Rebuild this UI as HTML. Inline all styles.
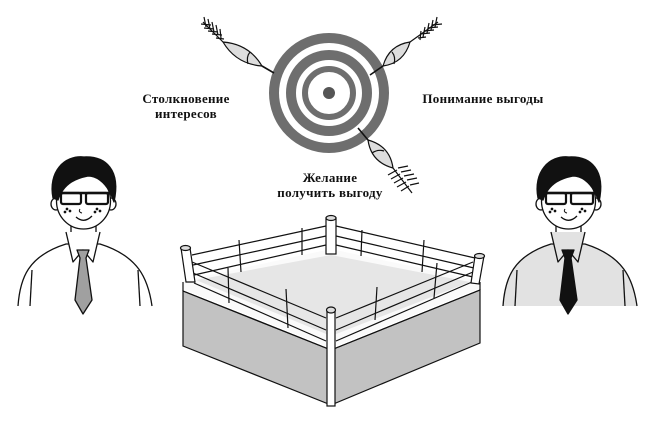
<!DOCTYPE html>
<html><head><meta charset="utf-8"><style>
html,body{margin:0;padding:0;background:#fff;width:650px;height:426px;overflow:hidden}
svg{display:block}
text{font-family:"Liberation Serif",serif;font-weight:bold;font-size:13px;fill:#111;letter-spacing:0.3px}
</style></head><body>
<svg width="650" height="426" viewBox="0 0 650 426" xmlns="http://www.w3.org/2000/svg">
<defs>
<pattern id="lt" width="3" height="3" patternUnits="userSpaceOnUse"><rect width="3" height="3" fill="#e6e6e6"/><rect width="1" height="1" fill="#999"/></pattern>
<g id="person" stroke="#111" stroke-width="1.3" stroke-linejoin="round">
<path d="M18,306 C20,278 28,256 66,244 L100,244 C138,256 148,278 152,306" fill="var(--shirt)"/>
<line x1="32" y1="270" x2="30" y2="306"/><line x1="138" y1="270" x2="140" y2="306"/>
<rect x="71" y="218" width="25" height="28" fill="#fff" stroke="none"/>
<line x1="71" y1="215" x2="71" y2="238"/><line x1="96" y1="215" x2="96" y2="238"/>
<path d="M66,232 L73,262 L83,250 L93,262 L100,232" fill="var(--shirt)"/>
<path d="M77,250 L89,250 L86,258 L92,300 L83,314 L75,300 L80,258 Z" fill="var(--tie)"/>
<ellipse cx="56" cy="204" rx="5" ry="6" fill="#fff"/><ellipse cx="111" cy="204" rx="5" ry="6" fill="#fff"/>
<ellipse cx="83.5" cy="201" rx="27" ry="28" fill="#fff"/>
<path d="M53,198 C48,172 64,155 84,157 C106,156 121,170 114,202 L110,192 C104,182 97,176 88,176 C78,178 64,182 58,200 Z" fill="#111"/>
<path d="M58,193 L110,193" stroke-width="2.5"/>
<rect x="61" y="193" width="20" height="11" rx="2" fill="none" stroke-width="2.2"/>
<rect x="86" y="193" width="22" height="11" rx="2" fill="none" stroke-width="2.2"/>
<path d="M80,209 q-2,3 2,4" fill="none" stroke-width="1"/>
<path d="M76,217 q8,7 16,-1" fill="none"/>
<circle cx="67" cy="209" r=".7"/><circle cx="70" cy="211" r=".7"/><circle cx="65" cy="212" r=".7"/>
<circle cx="97" cy="209" r=".7"/><circle cx="100" cy="211" r=".7"/><circle cx="95" cy="212" r=".7"/>
</g>
</defs>

<use href="#person" style="--shirt:#fff;--tie:#a0a0a0"/>
<use href="#person" transform="translate(485,0)" style="--shirt:#e2e2e2;--tie:#111"/>

<!-- target -->
<circle cx="329" cy="93" r="55" fill="none" stroke="#6e6e6e" stroke-width="10"/>
<circle cx="329" cy="93" r="38" fill="none" stroke="#6e6e6e" stroke-width="10"/>
<circle cx="329" cy="93" r="24" fill="none" stroke="#6e6e6e" stroke-width="6"/>
<circle cx="329" cy="93" r="6" fill="#555"/>

<!-- arrows -->
<g stroke="#111" stroke-width="1.2" fill="none">
<path d="M223,42 Q236,64 262,66 Q249,44 223,42 Z" fill="#ddd"/>
<path d="M250,52 q-4,5 -2,12"/>
<line x1="262" y1="66" x2="274" y2="73" stroke-width="1.6"/>
<line x1="203" y1="22" x2="223" y2="42"/>
<path d="M204,17 l2,10 M208,19 l2,10 M212,22 l2,10 M216,25 l2,10 M220,29 l1,9 M201,24 l10,1 M204,28 l10,1 M208,31 l10,1 M212,34 l10,1 M216,38 l8,1"/>

<path d="M410,42 Q404,63 383,66 Q389,45 410,42 Z" fill="#ddd"/>
<path d="M392,52 q4,5 2,12"/>
<line x1="383" y1="66" x2="370" y2="75" stroke-width="1.6"/>
<line x1="410" y1="42" x2="438" y2="22"/>
<path d="M437,17 l-2,10 M433,20 l-2,10 M429,23 l-2,10 M425,27 l-2,10 M421,31 l-1,9 M442,24 l-10,1 M438,27 l-10,1 M434,30 l-10,1 M430,33 l-10,1 M426,37 l-8,1"/>

<path d="M368,140 Q371,162 393,168 Q390,146 368,140 Z" fill="#ddd"/>
<path d="M372,153 q6,-4 12,-2"/>
<line x1="368" y1="140" x2="358" y2="128" stroke-width="1.6"/>
<line x1="393" y1="168" x2="412" y2="193"/>
<path d="M397,170 l-9,5 M400,174 l-9,5 M403,178 l-9,5 M406,182 l-9,5 M409,186 l-8,5 M398,168 l10,-2 M401,172 l10,-2 M404,176 l10,-2 M407,180 l10,-2 M410,185 l9,-2"/>
</g>

<text x="186" y="103" text-anchor="middle">Столкновение</text>
<text x="186" y="118" text-anchor="middle">интересов</text>
<text x="483" y="103" text-anchor="middle">Понимание выгоды</text>
<text x="330" y="182" text-anchor="middle">Желание</text>
<text x="330" y="197" text-anchor="middle">получить выгоду</text>

<!-- ring -->
<g stroke="#111" stroke-width="1.2">
<path d="M183,291 L331,350 L331,405 L183,346 Z" fill="#c2c2c2"/>
<path d="M331,350 L480,290 L480,343 L331,405 Z" fill="#c2c2c2"/>
<path d="M183,289 L331,348 L480,288 L480,281 L331,249 L183,281 Z" fill="#fafafa" stroke="none"/>
<path d="M196,280 L331,255 L470,282 L331,336 Z" fill="#e6e6e6" stroke="none"/>
<line x1="183" y1="291" x2="331" y2="350"/><line x1="331" y1="350" x2="480" y2="290"/>
<line x1="183" y1="282" x2="183" y2="291"/><line x1="480" y1="282" x2="480" y2="290"/>
<rect x="326" y="218" width="10" height="36" fill="#fff"/>
<ellipse cx="331" cy="218" rx="5" ry="2.5" fill="#ddd"/>
<g fill="none">
<path d="M192,255 L326,226 M193,265 L326,236 M194,275 L326,245"/>
<path d="M336,226 L475,258 M336,236 L474,268 M336,245 L473,277"/>
<path d="M192,262 L326,318 M193,273 L326,330 M194,283 L326,341"/>
<path d="M336,318 L473,262 M336,330 L473,272 M336,341 L472,282"/>
<line x1="239" y1="240" x2="241" y2="272"/><line x1="302" y1="228" x2="302" y2="255"/>
<line x1="362" y1="230" x2="361" y2="256"/><line x1="424" y1="240" x2="422" y2="272"/>
<line x1="228" y1="268" x2="229" y2="303"/><line x1="286" y1="289" x2="288" y2="328"/>
<line x1="377" y1="287" x2="375" y2="320"/><line x1="437" y1="263" x2="434" y2="298"/>
</g>
<path d="M181,248 L186,282 L195,282 L190,248 Z" fill="#fff"/>
<ellipse cx="185.5" cy="248" rx="5" ry="2.5" fill="#ddd"/>
<path d="M475,256 L471,283 L479,284 L484,256 Z" fill="#fff"/>
<ellipse cx="479.5" cy="256" rx="5" ry="2.5" fill="#ddd"/>
<rect x="327" y="310" width="8" height="96" fill="#fff"/>
<ellipse cx="331" cy="310" rx="4.5" ry="3" fill="#ddd"/>
</g>
</svg>
</body></html>
